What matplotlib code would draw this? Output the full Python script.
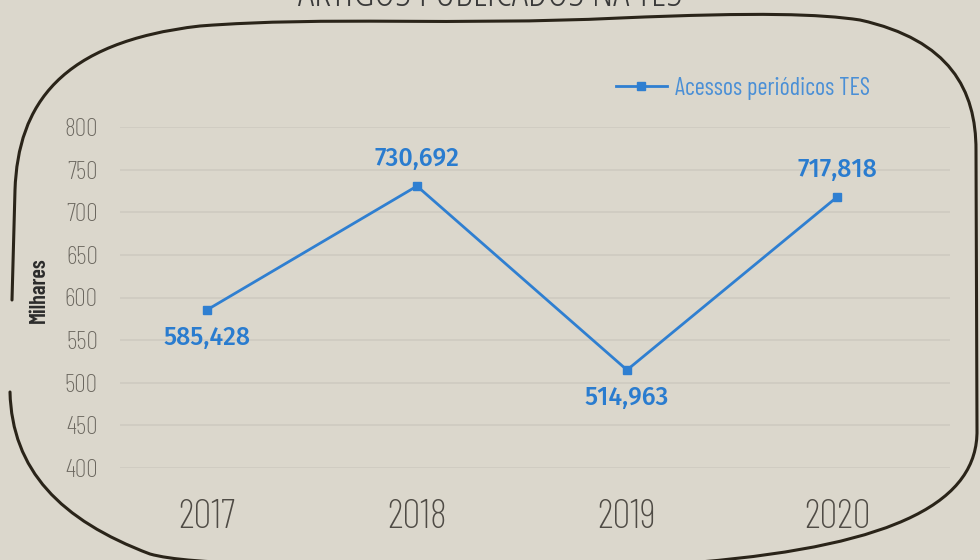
import matplotlib
matplotlib.use("Agg")
import matplotlib.pyplot as plt
from matplotlib.path import Path
from matplotlib.patches import PathPatch
from matplotlib import font_manager as fm

# dados (milhares de acessos)
anos = ["2017", "2018", "2019", "2020"]
acessos = [585.428, 730.692, 514.963, 717.818]
rotulos = ["585,428", "730,692", "514,963", "717,818"]
posicao_rotulo = ["below", "above", "below", "above"]
y_ticks = [400, 450, 500, 550, 600, 650, 700, 750, 800]

W, H = 980, 560
BG = "#dbd7cc"
AZUL = "#2f7fd1"


def fonte(nome, peso, tamanho):
    # procura o arquivo estatico do peso certo
    cands = [f for f in fm.fontManager.ttflist
             if f.name == nome and f.style == "normal"]
    if not cands:
        return fm.FontProperties(family="DejaVu Sans", size=tamanho)
    f = min(cands, key=lambda c: abs(int(c.weight) - peso))
    return fm.FontProperties(fname=f.fname, size=tamanho)


fig = plt.figure(figsize=(W / 100, H / 100), dpi=100, facecolor=BG)
ax = fig.add_axes([120 / W, (H - 468) / H, (950 - 120) / W, (468 - 127) / H])
ax.set_facecolor(BG)

x = list(range(len(anos)))
ax.plot(x, acessos, color=AZUL, lw=2.0, marker="s", ms=5.5, label="Acessos periódicos TES", zorder=3)

fp_rot = fonte("Fira Sans", 500, 18)
for xi, yi, txt, pos in zip(x, acessos, rotulos, posicao_rotulo):
    dy = -20 if pos == "below" else 20
    ax.annotate(txt, (xi, yi), xytext=(0, dy), textcoords="offset points",
                ha="center", va="center", color="#2a7ccf", fontproperties=fp_rot)

ax.set_xlim(-0.414, 3.538)
ax.set_ylim(400, 800)
ax.set_yticks(y_ticks)
ax.set_xticks(x)
ax.set_xticklabels(anos)
ax.grid(axis="y", color="#cecac0", lw=1.2)
ax.set_axisbelow(True)
for s in ax.spines.values():
    s.set_visible(False)
ax.tick_params(axis="both", length=0)
ax.tick_params(axis="y", pad=16, labelcolor="#6b675f")
ax.tick_params(axis="x", pad=22, labelcolor="#4f4b45")
fp_y = fonte("Barlow Condensed", 275, 18.5)
fp_x = fonte("Barlow Condensed", 275, 29)
for lab in ax.get_yticklabels():
    lab.set_fontproperties(fp_y)
for lab in ax.get_xticklabels():
    lab.set_fontproperties(fp_x)

ax.set_ylabel("Milhares", fontproperties=fonte("Barlow Condensed", 600, 16),
              color="#2b2b2b", labelpad=0)
ax.yaxis.set_label_coords((49 - 120) / (950 - 120), (468 - 290) / (468 - 127))

leg = ax.legend(loc="upper right", bbox_to_anchor=((892 - 120) / 830, (468 - 55) / 341),
                frameon=False, handlelength=2.1, handletextpad=0.35,
                prop=fonte("Barlow Condensed", 400, 17.5))
for t in leg.get_texts():
    t.set_color("#4a8fd6")

# título (cortado no topo)
fig.text(0.5, 1 - 6 / H, "ARTIGOS PUBLICADOS NA TES", ha="center", va="baseline",
         fontproperties=fonte("Open Sans", 300, 29), color="#3a3a3a")

# moldura desenhada à mão
pts = [
    (12, 300),
    (15, 190),
    (18, 105), (60, 42), (200, 26),
    (330, 16), (450, 26), (620, 18),
    (760, 12), (820, 14), (860, 20),
    (950, 40), (976, 90), (976, 150),
    (977, 430),
    (978, 500), (900, 545), (700, 562),
    (500, 570),
    (300, 568), (190, 565), (150, 554),
    (60, 520), (12, 470), (10, 392),
]
codes = [Path.MOVETO, Path.LINETO,
         Path.CURVE4, Path.CURVE4, Path.CURVE4,
         Path.CURVE4, Path.CURVE4, Path.CURVE4,
         Path.CURVE4, Path.CURVE4, Path.CURVE4,
         Path.CURVE4, Path.CURVE4, Path.CURVE4,
         Path.LINETO,
         Path.CURVE4, Path.CURVE4, Path.CURVE4,
         Path.LINETO,
         Path.CURVE4, Path.CURVE4, Path.CURVE4,
         Path.CURVE4, Path.CURVE4, Path.CURVE4]
verts = [(px / W, 1 - py / H) for px, py in pts]
fig.patches.append(PathPatch(Path(verts, codes), transform=fig.transFigure,
                             facecolor="none", edgecolor="#2a2419", lw=2.2,
                             capstyle="round", joinstyle="round"))

fig.savefig("out.png", dpi=100, facecolor=BG)
